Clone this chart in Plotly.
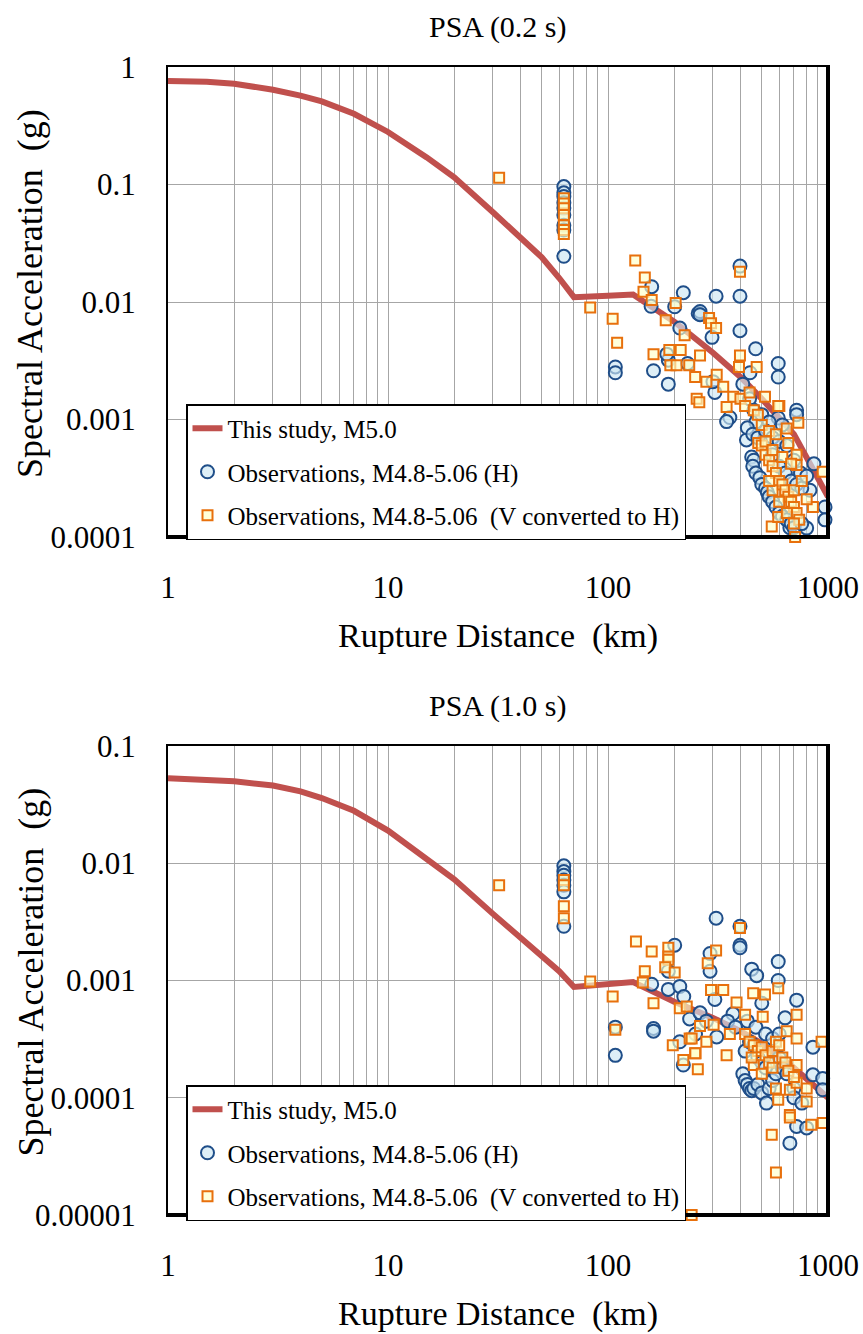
import plotly.graph_objects as go

# ---------------- data ----------------
dist_model = [1, 1.5, 2, 3, 4, 5, 7, 10, 15, 20, 30, 40, 50, 60, 70, 100, 130, 200, 300, 400, 500, 700, 1000]
psa02_model = [0.76, 0.75, 0.72, 0.64, 0.57, 0.51, 0.40, 0.28, 0.17, 0.115, 0.058, 0.035, 0.024, 0.016,
               0.011, 0.0113, 0.0116, 0.0068, 0.0037, 0.0023, 0.0015, 0.00075, 0.00022]
psa10_model = [0.053, 0.052, 0.050, 0.046, 0.041, 0.036, 0.028, 0.019, 0.011, 0.0073, 0.0037, 0.0023, 0.0016,
               0.0012, 0.00088, 0.00093, 0.00097, 0.00066, 0.00048, 0.00037, 0.00029, 0.00018, 0.0001]

# PSA 0.2 s, horizontal observations
h02_x = [63, 63, 63, 63, 63, 63, 63, 63, 63,
         108, 108, 158, 157, 220, 201, 212, 257, 161, 188, 188, 230, 185,
         398, 310, 398, 262, 262, 297, 398, 469, 594, 594, 442, 410, 306, 300, 720, 720, 358, 346, 426, 594,
         863, 828, 969, 969, 800, 671,
         440, 460, 470, 430, 455, 480, 450, 460, 455, 470, 490, 500, 520, 530, 540, 560, 580, 600, 620, 650,
         680, 700, 760, 560, 600, 640, 680, 720, 760, 500, 540, 520, 560, 600, 650, 620, 700, 750, 800]
h02_y = [0.096, 0.085, 0.079, 0.070, 0.063, 0.055, 0.045, 0.041, 0.0245,
         0.0028, 0.0025, 0.0135, 0.0092, 0.012, 0.0091, 0.006, 0.008, 0.0026, 0.0032, 0.0020, 0.003, 0.0036,
         0.0202, 0.0112, 0.0112, 0.0083, 0.0078, 0.005, 0.0057, 0.004, 0.003, 0.0023, 0.0025, 0.002, 0.0017,
         0.0021, 0.0012, 0.0011, 0.00104, 0.00096, 0.00067, 0.00103,
         0.00042, 0.00025, 0.00018, 0.00014, 0.000119, 0.00012,
         0.0015, 0.0012, 0.00095, 0.00085, 0.00075, 0.0007, 0.00048, 0.00045, 0.0004, 0.00035, 0.00032,
         0.00028, 0.00026, 0.00024, 0.00022, 0.0002, 0.00018, 0.00016, 0.00015, 0.00014, 0.00013, 0.00012,
         0.00013, 0.0005, 0.0004, 0.00035, 0.0003, 0.00028, 0.00026, 0.0011, 0.00095, 0.0008, 0.0007,
         0.00065, 0.0006, 0.0009, 0.00045, 0.00035, 0.00033]

# PSA 0.2 s, vertical converted to horizontal
v02_x = [32, 63, 63, 63, 63, 63, 63, 63, 83, 105, 110, 133, 147, 145, 158, 203, 183, 223, 161, 190, 214,
         192, 205, 234, 249, 253, 398, 288, 294, 310, 262, 398, 394, 474, 312, 280, 334, 260, 371, 400,
         420, 440, 460, 480, 517, 601, 346, 482, 500, 540, 580, 594, 733, 649, 660, 720, 720, 946, 854,
         800, 709, 555, 594,
         500, 520, 540, 560, 580, 600, 620, 640, 660, 680, 700, 720, 740, 700, 650, 600, 560, 540, 700,
         760, 520, 560, 620, 680]
v02_y = [0.114, 0.0764, 0.069, 0.0627, 0.055, 0.045, 0.041, 0.038, 0.009, 0.0072, 0.0045, 0.0225, 0.0162,
         0.0122, 0.0104, 0.0098, 0.007, 0.0052, 0.0036, 0.0039, 0.0039, 0.0029, 0.0029, 0.0029, 0.0023,
         0.0015, 0.0181, 0.0073, 0.0066, 0.006, 0.0035, 0.0035, 0.0028, 0.0028, 0.0024, 0.0021, 0.0019,
         0.0014, 0.00156, 0.0015, 0.0013, 0.0017, 0.0012, 0.0011, 0.00156, 0.0013, 0.00128, 0.00063,
         0.0009, 0.0008, 0.00075, 0.0013, 0.00094, 0.00084, 0.00063, 0.0005, 0.00041, 0.00036, 0.00018,
         0.00021, 0.0001, 0.000123, 0.000148,
         0.0006, 0.0005, 0.00045, 0.0004, 0.00035, 0.0003, 0.00028, 0.00025, 0.00022, 0.0002, 0.00018,
         0.00016, 0.00014, 0.00013, 0.00016, 0.0002, 0.00025, 0.0003, 0.00025, 0.0003, 0.00065, 0.00055,
         0.00048, 0.00042]

# PSA 1.0 s, horizontal observations
h10_x = [63, 63, 63, 63, 63, 63, 63,
         108, 108, 201, 188, 158, 188, 212, 221, 235, 161, 161, 212, 220,
         310, 398, 398, 398, 291, 291, 594, 450, 474, 594, 306, 500, 720, 262, 370, 638, 312, 854,
         410, 420, 430, 440, 450, 460, 480, 500, 525, 540, 560, 580, 420, 440, 460, 480, 500, 520, 600,
         620, 650, 700, 854, 946, 946, 720, 800, 671, 700, 760, 430, 470, 520, 560, 600, 350, 380, 280, 250]
h10_y = [0.0095, 0.0085, 0.0079, 0.0072, 0.0065, 0.0057, 0.0029,
         0.0004, 0.00023, 0.002, 0.0012, 0.00093, 0.00084, 0.00089, 0.00073, 0.00047, 0.00039, 0.00037,
         0.0003, 0.00019,
         0.0034, 0.0029, 0.002, 0.0019, 0.0017, 0.0012, 0.00145, 0.00125, 0.0011, 0.001, 0.00069, 0.00064,
         0.00068, 0.00053, 0.00052, 0.00048, 0.00033, 0.00027,
         0.00016, 0.00014, 0.00013, 0.00012, 0.000115, 0.00012, 0.00013, 0.00011, 0.00009, 0.00012,
         0.00014, 0.00016, 0.00025, 0.0003, 0.00028, 0.00022, 0.0002, 0.00018, 0.00022, 0.00018, 0.00016,
         0.00012, 0.000157, 0.000146, 0.000117, 0.0000569, 0.0000553, 0.000041, 0.0001, 0.00009, 0.00045,
         0.0004, 0.00035, 0.00032, 0.00035, 0.00045, 0.0004, 0.00045, 0.00035]

# PSA 1.0 s, vertical converted to horizontal
v10_x = [32, 63, 63, 63, 63, 83, 105, 108, 134, 158, 188, 188, 188, 147, 182, 201, 144, 161, 212, 228, 197,
         235, 220, 250, 240,
         398, 310, 284, 594, 294, 334, 457, 517, 720, 384, 420, 505, 262, 302, 280, 240, 358, 649, 720, 935,
         249, 346, 256, 594, 800, 800, 671, 671, 840, 946, 555, 580, 671, 720, 720,
         420, 440, 460, 480, 500, 520, 540, 560, 580, 600, 620, 640, 660, 700, 460, 500, 560, 450, 580]
v10_y = [0.0065, 0.0072, 0.0065, 0.0043, 0.0034, 0.00098, 0.00073, 0.00038, 0.00215, 0.00177, 0.0019,
         0.0016, 0.0015, 0.0012, 0.0013, 0.00117, 0.00096, 0.00064, 0.00058, 0.0006, 0.00028, 0.00032,
         0.00021, 0.00024, 0.00001,
         0.0028, 0.0018, 0.0014, 0.00086, 0.00083, 0.00083, 0.00078, 0.00076, 0.00051, 0.00065, 0.00051,
         0.00049, 0.00041, 0.00042, 0.0003, 0.00032, 0.00035, 0.00037, 0.00032, 0.0003, 0.00024, 0.00023,
         0.000175, 0.000096, 0.00012, 0.000093, 0.0000714, 0.000068, 0.0000588, 0.0000608, 0.0000483,
         0.000023, 0.000117, 0.00019, 0.000134,
         0.00035, 0.0003, 0.00028, 0.00025, 0.00027, 0.00023, 0.0002, 0.00025, 0.0003, 0.00028, 0.00022,
         0.0002, 0.00017, 0.00015, 0.00019, 0.00016, 0.00018, 0.00022, 0.00012]

x_ticks = [1, 10, 100, 1000]
x_ticktext = ["1", "10", "100", "1000"]
y_ticks_top = [1, 0.1, 0.01, 0.001, 0.0001]
y_ticktext_top = ["1", "0.1", "0.01", "0.001", "0.0001"]
y_ticks_bot = [0.1, 0.01, 0.001, 0.0001, 0.00001]
y_ticktext_bot = ["0.1", "0.01", "0.001", "0.0001", "0.00001"]

line_name = "This study, M5.0"
h_name = "Observations, M4.8-5.06 (H)"
v_name = "Observations, M4.8-5.06\u00a0\u00a0(V converted to H)"
titles = ["PSA (0.2 s)", "PSA (1.0 s)"]
x_title = "Rupture Distance\u00a0\u00a0(km)"
y_title = "Spectral Acceleration\u00a0\u00a0(g)"

# ---------------- styles ----------------
FONT = "Liberation Serif, Times New Roman, serif"
LINE_COLOR = "#C0504D"
CIRC_LINE = "#1F4E89"
CIRC_FILL = "rgba(205,230,242,0.65)"
SQ_LINE = "#E8700C"
SQ_FILL = "rgba(255,255,200,0.65)"
W, H = 863, 1334

fig = go.Figure()


def add_panel(xa, ya, legend, mx, my, hx, hy, vx, vy):
    fig.add_trace(go.Scatter(x=mx, y=my, mode="lines", name=line_name, xaxis=xa, yaxis=ya,
                             legend=legend, legendgroup=legend + "a",
                             line=dict(color=LINE_COLOR, width=6), cliponaxis=False))
    fig.add_trace(go.Scatter(x=hx, y=hy, mode="markers", name=h_name, xaxis=xa, yaxis=ya,
                             legend=legend, legendgroup=legend + "b", cliponaxis=False,
                             marker=dict(symbol="circle", size=13, color=CIRC_FILL,
                                         line=dict(color=CIRC_LINE, width=2))))
    fig.add_trace(go.Scatter(x=vx, y=vy, mode="markers", name=v_name, xaxis=xa, yaxis=ya,
                             legend=legend, legendgroup=legend + "c", cliponaxis=False,
                             marker=dict(symbol="square", size=10, color=SQ_FILL,
                                         line=dict(color=SQ_LINE, width=2))))


add_panel("x", "y", "legend", dist_model, psa02_model, h02_x, h02_y, v02_x, v02_y)
add_panel("x2", "y2", "legend2", dist_model, psa10_model, h10_x, h10_y, v10_x, v10_y)

# plot area geometry (pixels)
L, R = 168, 828
top_panel = (67, 537)
bot_panel = (746, 1215)


def ydom(p):
    return [1 - p[1] / H, 1 - p[0] / H]


xdom = [L / W, R / W]

common_x = dict(type="log", range=[0, 3], domain=xdom, tickvals=x_ticks, ticktext=x_ticktext,
                showline=True, mirror=True, linecolor="black", linewidth=2,
                showgrid=True, gridcolor="#A6A6A6", gridwidth=1,
                minor=dict(showgrid=True, gridcolor="#A6A6A6", gridwidth=1, dtick="D1", ticks=""),
                ticks="", ticklabelstandoff=22, zeroline=False, automargin=False,
                tickfont=dict(family=FONT, size=31, color="black"))
common_y = dict(type="log", showline=True, mirror=True, linecolor="black", linewidth=2,
                showgrid=True, gridcolor="#A6A6A6", gridwidth=1, ticks="", ticklabelstandoff=24,
                zeroline=False, automargin=False, tickfont=dict(family=FONT, size=31, color="black"))

leg_common = dict(x=186 / W, xanchor="left", yanchor="top",
                  bgcolor="white", bordercolor="black", borderwidth=1.5,
                  font=dict(family=FONT, size=25, color="black"), tracegroupgap=8,
                  itemwidth=30)

fig.update_layout(
    width=W, height=H, autosize=False, margin=dict(l=0, r=0, t=0, b=0, pad=0, autoexpand=False),
    paper_bgcolor="white", plot_bgcolor="white",
    font=dict(family=FONT, color="black"),
    xaxis=dict(common_x, anchor="y"),
    yaxis=dict(common_y, anchor="x", domain=ydom(top_panel), range=[-4, 0],
               tickvals=y_ticks_top, ticktext=y_ticktext_top),
    xaxis2=dict(common_x, anchor="y2"),
    yaxis2=dict(common_y, anchor="x2", domain=ydom(bot_panel), range=[-5, -1],
                tickvals=y_ticks_bot, ticktext=y_ticktext_bot),
    legend=dict(leg_common, y=1 - 404 / H),
    legend2=dict(leg_common, y=1 - 1085 / H),
    showlegend=True,
)

# heavier right / bottom frame edges (plot-area shadow)
shapes = []
for xr, yr in [("x domain", "y domain"), ("x2 domain", "y2 domain")]:
    shapes.append(dict(type="line", xref=xr, yref=yr, x0=1, x1=1, y0=0, y1=1,
                       line=dict(color="black", width=4)))
    shapes.append(dict(type="line", xref=xr, yref=yr, x0=0, x1=1, y0=0, y1=0,
                       line=dict(color="black", width=4)))
fig.update_layout(shapes=shapes)

annos = []
for i, (p, t) in enumerate(zip([top_panel, bot_panel], titles)):
    annos.append(dict(text=t, x=(L + R) / 2 / W, y=1 - (p[0] - 40) / H, xref="paper", yref="paper",
                      showarrow=False, xanchor="center", yanchor="middle",
                      font=dict(family=FONT, size=30, color="black")))
    annos.append(dict(text=x_title, x=(L + R) / 2 / W, y=1 - (p[1] + 99) / H, xref="paper", yref="paper",
                      showarrow=False, xanchor="center", yanchor="middle",
                      font=dict(family=FONT, size=34, color="black")))
    annos.append(dict(text=y_title, x=30 / W, y=1 - ((p[0] + p[1]) / 2 - 8) / H, xref="paper",
                      yref="paper", showarrow=False, xanchor="center", yanchor="middle", textangle=-90,
                      font=dict(family=FONT, size=36, color="black")))
fig.update_layout(annotations=annos)

fig.write_html("out.html", config={"responsive": False, "displayModeBar": False},
               post_script="document.body.style.margin='0px';document.body.style.overflow='hidden';")
